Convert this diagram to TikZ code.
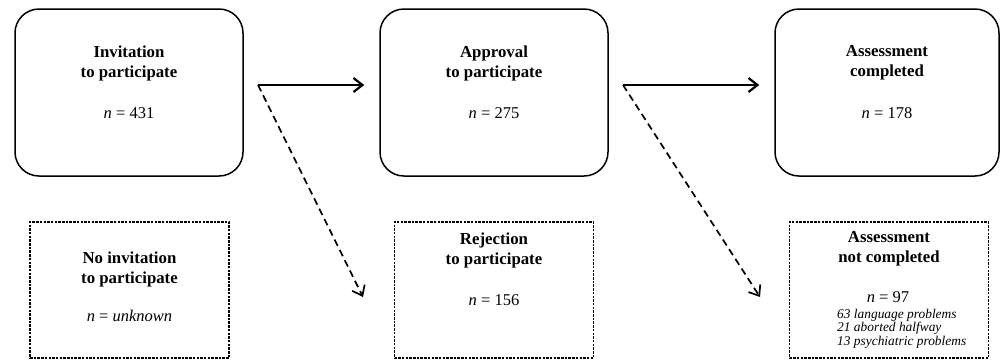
\documentclass[tikz,border=0pt]{standalone}
\usepackage{fontspec}
\setmainfont{Liberation Serif}
\usetikzlibrary{arrows.meta}
\begin{document}
\begin{tikzpicture}[x=1pt,y=-1pt,
  topbox/.style={draw, line width=1.5pt, rounded corners=24pt, minimum width=228pt, minimum height=167pt, inner sep=0pt},
  botbox/.style={draw, line width=1.1pt, dash pattern=on 2.5pt off 1.2pt, minimum width=199pt, minimum height=136pt, inner sep=0pt},
  title/.style={align=center, font=\fontsize{16.8}{20}\selectfont\bfseries, inner sep=0pt},
  count/.style={font=\fontsize{16.5}{20}\selectfont, inner sep=0pt},
  reason/.style={align=left, font=\fontsize{13.4}{13.5}\selectfont\itshape, inner sep=0pt, anchor=west},
  flow/.style={line width=2.2pt, -{Straight Barb[length=9pt,width=14pt]}},
  drop/.style={line width=1.7pt, dash pattern=on 7pt off 4.5pt, -{Straight Barb[length=9pt,width=14pt]}}]
\useasboundingbox (0,0) rectangle (1000,360);

% top row
\node[topbox] (b1) at (129,92.5) {};
\node[topbox] (b2) at (494,92.5) {};
\node[topbox, minimum width=224pt] (b3) at (887,92.5) {};
\node[title] (t1) at (129,63) {Invitation\\to participate};
\node[count] (n1) at (129,113) {\textit{n} = 431};
\node[title] (t2) at (494,63) {Approval\\to participate};
\node[count] (n2) at (494,113) {\textit{n} = 275};
\node[title] (t3) at (887,63) {Assessment\\completed};
\node[count] (n3) at (887,113) {\textit{n} = 178};

% bottom row
\node[botbox] (b4) at (129.5,290) {};
\node[botbox] (b5) at (494,290) {};
\node[botbox] (b6) at (889,290) {};
\node[title] (t4) at (129.5,269) {No invitation\\to participate};
\node[count] (n4) at (129.5,316) {\textit{n} = \textit{unknown}};
\node[title] (t5) at (494,250) {Rejection\\to participate};
\node[count] (n5) at (494,300) {\textit{n} = 156};
\node[title] (t6) at (889,249) {Assessment\\not completed};
\node[count] (n6) at (888,297) {\textit{n} = 97};
\node[reason] (r6) at (837,328.5) {63 language problems\\21 aborted halfway\\13 psychiatric problems};

% connectors
\coordinate (s1) at (258,85);
\coordinate (e1) at (363,297);
\coordinate (s2) at (623,85);
\coordinate (e2) at (760,297);
\draw[flow, shorten >=15pt] (s1) -- (b2.west |- s1);
\draw[drop] (s1) -- (e1);
\draw[flow, shorten >=15pt] (s2) -- (b3.west |- s2);
\draw[drop] (s2) -- (e2);
\end{tikzpicture}
\end{document}
